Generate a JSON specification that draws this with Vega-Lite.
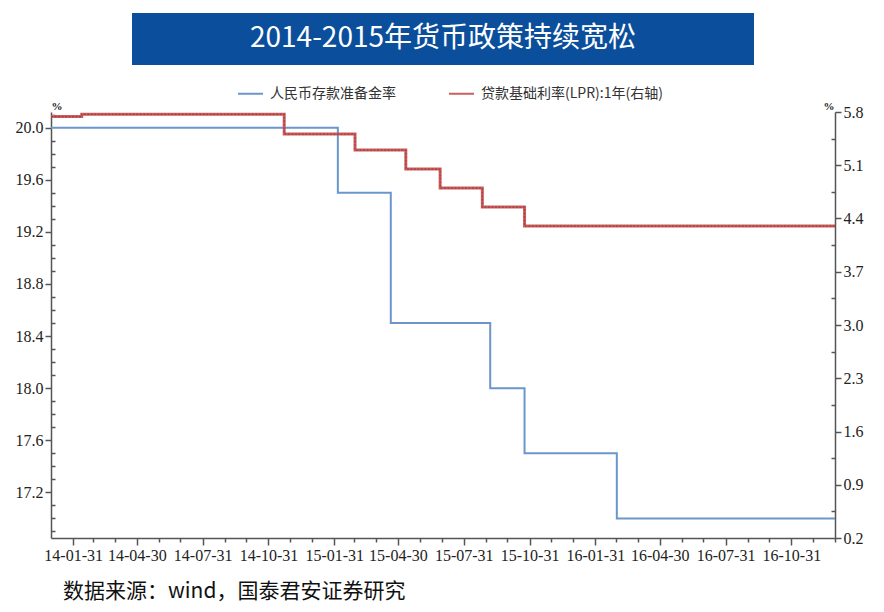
{
  "$schema": "https://vega.github.io/schema/vega-lite/v6.json",
  "autosize": {"type": "none"},
  "padding": {"left": 51, "top": 13, "right": 833, "bottom": 599},
  "background": "#ffffff",
  "center": true,
  "bounds": "flush",
  "spacing": 47,
  "config": {
    "view": {"stroke": null},
    "font": "Liberation Sans Narrow",
    "axis": {"labelOverlap": false}
  },
  "datasets": {
    "rrr": [
      {"date": "2013-12-31", "rate": 20.0},
      {"date": "2015-02-05", "rate": 19.5},
      {"date": "2015-04-20", "rate": 18.5},
      {"date": "2015-09-06", "rate": 18.0},
      {"date": "2015-10-24", "rate": 17.5},
      {"date": "2016-03-01", "rate": 17.0},
      {"date": "2016-12-31", "rate": 17.0}
    ],
    "lpr": [
      {"date": "2013-12-31", "rate": 5.74},
      {"date": "2014-02-12", "rate": 5.77},
      {"date": "2014-11-22", "rate": 5.51},
      {"date": "2015-03-01", "rate": 5.30},
      {"date": "2015-05-11", "rate": 5.05},
      {"date": "2015-06-28", "rate": 4.80},
      {"date": "2015-08-26", "rate": 4.55},
      {"date": "2015-10-24", "rate": 4.30},
      {"date": "2016-12-31", "rate": 4.30}
    ],
    "banner": [{"t": "2014-2015年货币政策持续宽松"}]
  },
  "vconcat": [
    {
      "width": 622,
      "height": 52,
      "view": {"fill": "#0b4f9c", "stroke": null},
      "data": {"name": "banner"},
      "mark": {"type": "text", "color": "#ffffff", "fontSize": 28, "font": "Noto Sans CJK SC", "baseline": "middle", "align": "center"},
      "encoding": {"text": {"field": "t", "type": "nominal"}}
    },
    {
      "width": 784,
      "height": 426,
      "title": {"text": "数据来源：wind，国泰君安证券研究", "orient": "bottom", "anchor": "start", "frame": "group", "font": "Noto Sans CJK SC", "fontSize": 21, "fontWeight": "normal", "color": "#111111", "offset": 18, "dx": 12},
      "encoding": {
        "x": {
          "field": "date", "type": "temporal",
          "scale": {"type": "utc", "domain": [{"year": 2013, "month": 12, "date": 31, "utc": true}, {"year": 2016, "month": 12, "date": 31, "utc": true}], "nice": false},
          "axis": {
            "title": null, "grid": false,
            "values": [
              {"year": 2014, "month": 1, "date": 31, "utc": true},
              {"year": 2014, "month": 2, "date": 28, "utc": true},
              {"year": 2014, "month": 3, "date": 31, "utc": true},
              {"year": 2014, "month": 4, "date": 30, "utc": true},
              {"year": 2014, "month": 5, "date": 31, "utc": true},
              {"year": 2014, "month": 6, "date": 30, "utc": true},
              {"year": 2014, "month": 7, "date": 31, "utc": true},
              {"year": 2014, "month": 8, "date": 31, "utc": true},
              {"year": 2014, "month": 9, "date": 30, "utc": true},
              {"year": 2014, "month": 10, "date": 31, "utc": true},
              {"year": 2014, "month": 11, "date": 30, "utc": true},
              {"year": 2014, "month": 12, "date": 31, "utc": true},
              {"year": 2015, "month": 1, "date": 31, "utc": true},
              {"year": 2015, "month": 2, "date": 28, "utc": true},
              {"year": 2015, "month": 3, "date": 31, "utc": true},
              {"year": 2015, "month": 4, "date": 30, "utc": true},
              {"year": 2015, "month": 5, "date": 31, "utc": true},
              {"year": 2015, "month": 6, "date": 30, "utc": true},
              {"year": 2015, "month": 7, "date": 31, "utc": true},
              {"year": 2015, "month": 8, "date": 31, "utc": true},
              {"year": 2015, "month": 9, "date": 30, "utc": true},
              {"year": 2015, "month": 10, "date": 31, "utc": true},
              {"year": 2015, "month": 11, "date": 30, "utc": true},
              {"year": 2015, "month": 12, "date": 31, "utc": true},
              {"year": 2016, "month": 1, "date": 31, "utc": true},
              {"year": 2016, "month": 2, "date": 29, "utc": true},
              {"year": 2016, "month": 3, "date": 31, "utc": true},
              {"year": 2016, "month": 4, "date": 30, "utc": true},
              {"year": 2016, "month": 5, "date": 31, "utc": true},
              {"year": 2016, "month": 6, "date": 30, "utc": true},
              {"year": 2016, "month": 7, "date": 31, "utc": true},
              {"year": 2016, "month": 8, "date": 31, "utc": true},
              {"year": 2016, "month": 9, "date": 30, "utc": true},
              {"year": 2016, "month": 10, "date": 31, "utc": true},
              {"year": 2016, "month": 11, "date": 30, "utc": true},
              {"year": 2016, "month": 12, "date": 31, "utc": true}
            ],
            "labelExpr": "test(/^(01|04|07|10)$/, utcFormat(datum.value, '%m')) ? utcFormat(datum.value, '%y-%m-%d') : ''",
            "tickSize": {"condition": {"test": "test(/^(01|04|07|10)$/, utcFormat(datum.value, '%m'))", "value": 7}, "value": 4},
            "domainColor": "#555555", "tickColor": "#555555", "domainWidth": 1.5, "tickWidth": 1.5,
            "labelFont": "Liberation Sans Narrow", "labelFontSize": 16, "labelColor": "#222222",
            "labelPadding": 2, "labelFlush": false, "labelOverlap": false, "labelSeparation": 0, "labelAngle": 0
          }
        }
      },
      "layer": [
        {
          "data": {"name": "rrr"},
          "mark": {"type": "line", "interpolate": "step-after", "strokeWidth": 2, "clip": true},
          "encoding": {
            "y": {
              "field": "rate", "type": "quantitative",
              "scale": {"domain": [16.85, 20.12], "nice": false, "zero": false},
              "axis": {
                "orient": "left", "grid": false,
                "values": [16.9, 17.0, 17.1, 17.2, 17.3, 17.4, 17.5, 17.6, 17.7, 17.8, 17.9, 18.0, 18.1, 18.2, 18.3, 18.4, 18.5, 18.6, 18.7, 18.8, 18.9, 19.0, 19.1, 19.2, 19.3, 19.4, 19.5, 19.6, 19.7, 19.8, 19.9, 20.0, 20.1],
                "labelExpr": "round(datum.value * 10) % 4 == 0 ? format(datum.value, '.1f') : ''",
                "tickSize": {"condition": {"test": "round(datum.value * 10) % 4 == 0", "value": 6}, "value": -4},
                "domainColor": "#555555", "tickColor": "#555555", "domainWidth": 1.5, "tickWidth": 1.5,
                "labelFont": "Liberation Sans Narrow", "labelFontSize": 16, "labelColor": "#222222", "labelPadding": 2,
                "title": "%", "titleAngle": 0, "titleX": 0, "titleY": -1, "titleAlign": "left", "titleBaseline": "bottom",
                "titleFontSize": 11, "titleFontWeight": "bold", "titleColor": "#222222", "titleFont": "Liberation Sans Narrow"
              }
            },
            "color": {
              "datum": "人民币存款准备金率", "type": "nominal",
              "scale": {"domain": ["人民币存款准备金率", "贷款基础利率(LPR):1年(右轴)"], "range": ["#6a96cc", "#c95f5f"]},
              "legend": {
                "orient": "none", "legendX": 186, "legendY": 67, "direction": "horizontal", "title": null,
                "symbolType": "stroke", "symbolSize": 625, "symbolStrokeWidth": 2,
                "labelFont": "Noto Sans CJK SC", "labelFontSize": 14, "labelColor": "#333333", "labelLimit": 400,
                "columnPadding": 49, "labelOffset": 6
              }
            }
          }
        },
        {
          "data": {"name": "lpr"},
          "mark": {"type": "line", "interpolate": "step-after", "strokeWidth": 3, "clip": true},
          "encoding": {
            "y": {
              "field": "rate", "type": "quantitative",
              "scale": {"domain": [0.2, 5.8], "nice": false, "zero": false},
              "axis": {
                "orient": "right", "grid": false,
                "values": [0.2, 0.55, 0.9, 1.25, 1.6, 1.95, 2.3, 2.65, 3.0, 3.35, 3.7, 4.05, 4.4, 4.75, 5.1, 5.45, 5.8],
                "labelExpr": "round((datum.value - 0.2) / 0.35) % 2 == 0 ? format(datum.value, '.1f') : ''",
                "tickSize": {"condition": {"test": "round((datum.value - 0.2) / 0.35) % 2 == 0", "value": 6}, "value": -4},
                "domainColor": "#555555", "tickColor": "#555555", "domainWidth": 1.5, "tickWidth": 1.5,
                "labelFont": "Liberation Sans Narrow", "labelFontSize": 16, "labelColor": "#222222", "labelPadding": 2,
                "title": "%", "titleAngle": 0, "titleX": -1, "titleY": -1, "titleAlign": "right", "titleBaseline": "bottom",
                "titleFontSize": 11, "titleFontWeight": "bold", "titleColor": "#222222", "titleFont": "Liberation Sans Narrow"
              }
            },
            "color": {"datum": "贷款基础利率(LPR):1年(右轴)", "type": "nominal"}
          }
        },
        {
          "data": {"name": "lpr"},
          "mark": {"type": "line", "interpolate": "step-after", "strokeWidth": 1.2, "strokeDash": [2, 1.5], "color": "#a93a3a", "clip": true},
          "encoding": {
            "y": {"field": "rate", "type": "quantitative", "scale": {"domain": [0.2, 5.8], "nice": false, "zero": false}, "axis": null}
          }
        }
      ],
      "resolve": {"scale": {"y": "independent"}}
    }
  ]
}
